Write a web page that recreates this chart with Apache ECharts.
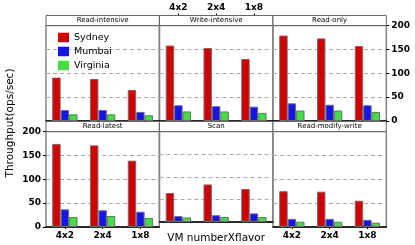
<!DOCTYPE html>
<html><head><meta charset="utf-8">
<script src="https://cdn.jsdelivr.net/npm/echarts@6/dist/echarts.min.js"></script>
<style>html,body{margin:0;padding:0;background:#fff}#c{width:415px;height:245px}</style>
</head><body><div id="c"></div>
<script>
const categories = ['4x2', '2x4', '1x8'];
const workloads = ['Read-intensive', 'Write-intensive', 'Read-only', 'Read-latest', 'Scan', 'Read-modify-write'];
const regions = ['Sydney', 'Mumbai', 'Virginia'];
// values per workload, in workload order, each [4x2, 2x4, 1x8]
const sydney = [[91, 88, 65], [158, 153, 130], [179, 173, 157], [174, 171, 139], [64, 83, 73], [75, 74, 55]];
const mumbai = [[23, 23, 19], [33, 31, 30], [37, 34, 33], [37, 35, 32], [13, 15, 19], [17, 17, 15]];
const virginia = [[14, 14, 12], [20, 20, 17], [22, 22, 19], [21, 23, 19], [10, 11, 11], [11, 11, 9]];
const yMin = 0, yMax = 200, yStep = 50;

const colors = ['#d20000', '#1515e6', '#44dd44'];
const FONT = 'DejaVu Sans';
const lefts = [46, 159.5, 273];
const panelW = 113.3;
const tops = [25.5, 131.5];
const panelH = 95.5;
const stripH = 10;

const grids = [], xAxes = [], yAxes = [], series = [], graphics = [];
workloads.forEach((w, i) => {
  const row = Math.floor(i / 3), col = i % 3;
  grids.push({left: lefts[col], top: tops[row], width: panelW, height: panelH,
    show: true, borderColor: '#858585', borderWidth: 1.5});
  const showBottomLabels = row === 1 && col !== 1;
  xAxes.push({type: 'category', gridIndex: i, data: categories, position: 'bottom',
    axisLine: {show: true, lineStyle: {color: '#000', width: 1.5}},
    axisTick: {show: showBottomLabels, alignWithLabel: true, length: 2, lineStyle: {color: '#000'}},
    axisLabel: {show: showBottomLabels, fontFamily: FONT, fontWeight: 'bold', fontSize: 9, color: '#000', margin: 4},
    name: (row === 1 && col === 1) ? 'VM numberXflavor' : '',
    nameLocation: 'middle', nameGap: 11,
    nameTextStyle: {fontFamily: FONT, fontSize: 10.5, color: '#000'}
  });
  const showY = (row === 0 && col === 2) || (row === 1 && col === 0);
  yAxes.push({type: 'value', gridIndex: i, min: yMin, max: yMax, interval: yStep,
    position: col === 2 ? 'right' : 'left',
    axisLine: {show: false},
    axisTick: {show: showY, length: 3, lineStyle: {color: '#000'}},
    axisLabel: {show: showY, fontFamily: FONT, fontWeight: 'bold', fontSize: 9, color: '#000', margin: 5},
    splitLine: {show: true, lineStyle: {color: '#a8a8a8', type: [4, 3], width: 1}}
  });
  const sets = [sydney, mumbai, virginia];
  regions.forEach((r, k) => {
    series.push({type: 'bar', name: r, xAxisIndex: i, yAxisIndex: i, data: sets[k][i],
      barGap: 0, barCategoryGap: '33%',
      itemStyle: {color: colors[k], borderColor: '#6e6e6e', borderWidth: 1},
      emphasis: {disabled: true}, animation: false});
  });
  // strip box above the panel
  graphics.push({type: 'rect', shape: {x: lefts[col], y: tops[row] - stripH, width: panelW, height: stripH},
    style: {fill: '#fff', stroke: '#666', lineWidth: 1}, z: 10});
  graphics.push({type: 'text', x: lefts[col] + panelW / 2, y: tops[row] - stripH / 2,
    style: {text: w, fontFamily: FONT, fontSize: 7, fill: '#000', align: 'center', verticalAlign: 'middle'}, z: 11});
});
// top axis labels for the top-middle panel
xAxes.push({type: 'category', gridIndex: 1, data: categories, position: 'top', offset: stripH,
  axisLine: {show: false},
  axisTick: {show: true, alignWithLabel: true, length: 2, lineStyle: {color: '#000'}},
  axisLabel: {show: true, fontFamily: FONT, fontWeight: 'bold', fontSize: 9, color: '#000', margin: 3},
  splitLine: {show: false}});

graphics.push({type: 'text', x: 10, y: 123, rotation: Math.PI / 2,
  style: {text: 'Throughput(ops/sec)', fontFamily: FONT, fontSize: 10.5, fill: '#000', align: 'center', verticalAlign: 'middle'}});

const chart = echarts.init(document.getElementById('c'), null, {renderer: 'canvas'});
chart.setOption({
  animation: false,
  grid: grids, xAxis: xAxes, yAxis: yAxes, series: series,
  legend: {data: regions, orient: 'vertical', left: 53, top: 27.5, padding: 5, itemWidth: 11, itemHeight: 9.5, itemGap: 4,
    icon: 'rect', textStyle: {fontFamily: FONT, fontSize: 9.5, color: '#000'},
    itemStyle: {borderWidth: 0}},
  graphic: graphics
});
</script></body></html>
